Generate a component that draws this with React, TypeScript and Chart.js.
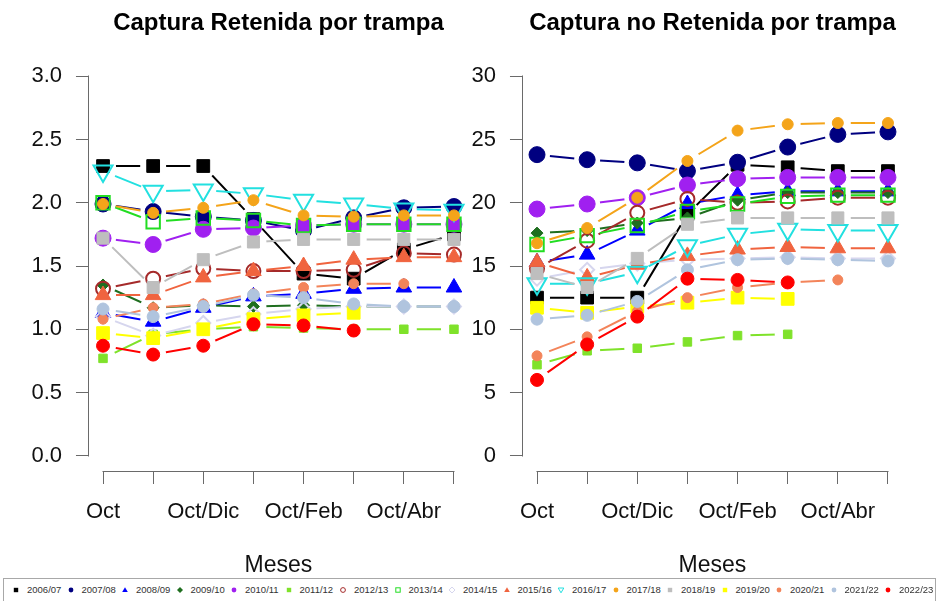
import React, { useEffect, useRef } from 'react';
import { Chart, registerables } from 'chart.js';

Chart.register(...registerables);

// ---------- data ----------
const MONTHS = ['Oct', 'Oct/Nov', 'Oct/Dic', 'Oct/Ene', 'Oct/Feb', 'Oct/Mar', 'Oct/Abr', 'Oct/May'];
const SEASONS = ['2006/07', '2007/08', '2008/09', '2009/10', '2010/11', '2011/12', '2012/13', '2013/14', '2014/15',
  '2015/16', '2016/17', '2017/18', '2018/19', '2019/20', '2020/21', '2021/22', '2022/23'];

const LEFT_TITLE = 'Captura Retenida por trampa';
const RIGHT_TITLE = 'Captura no Retenida por trampa';
const X_TITLE = 'Meses';
const LEFT_Y_TICKS = [0, 0.5, 1.0, 1.5, 2.0, 2.5, 3.0];
const RIGHT_Y_TICKS = [0, 5, 10, 15, 20, 25, 30];

// Captura Retenida por trampa
const RET_2006_07 = [2.29, 2.29, 2.29, 1.87, 1.44, 1.40, 1.63, 1.75];
const RET_2007_08 = [1.99, 1.93, 1.89, 1.86, 1.78, 1.88, 1.96, 1.97];
const RET_2008_09 = [1.13, 1.06, 1.17, 1.26, 1.28, 1.32, 1.33, 1.33];
const RET_2009_10 = [1.35, 1.17, 1.19, 1.18, 1.19, 1.18, 1.18, 1.18];
const RET_2010_11 = [1.72, 1.67, 1.79, 1.80, 1.82, 1.83, 1.83, 1.83];
const RET_2011_12 = [0.77, 0.96, 1.00, 1.02, 1.01, 1.00, 1.00, 1.00];
const RET_2012_13 = [1.32, 1.40, 1.48, 1.46, 1.46, 1.47, 1.60, 1.59];
const RET_2013_14 = [2.00, 1.85, 1.88, 1.86, 1.82, 1.83, 1.83, 1.83];
const RET_2014_15 = [1.10, 0.95, 1.05, 1.12, 1.16, 1.18, 1.18, 1.18];
const RET_2015_16 = [1.27, 1.27, 1.41, 1.46, 1.50, 1.55, 1.57, 1.57];
const RET_2016_17 = [2.25, 2.09, 2.10, 2.07, 2.02, 1.99, 1.95, 1.94];
const RET_2017_18 = [1.99, 1.92, 1.96, 2.02, 1.90, 1.89, 1.90, 1.90];
const RET_2018_19 = [1.72, 1.33, 1.55, 1.69, 1.71, 1.71, 1.71, 1.71];
const RET_2019_20 = [0.97, 0.93, 1.00, 1.08, 1.11, 1.13, null, null];
const RET_2020_21 = [1.08, 1.17, 1.20, 1.28, 1.33, 1.36, 1.36, null];
const RET_2021_22 = [1.16, 1.10, 1.18, 1.27, 1.25, 1.20, 1.18, 1.18];
const RET_2022_23 = [0.87, 0.80, 0.87, 1.04, 1.03, 0.99, null, null];

// Captura no Retenida por trampa
const NORET_2006_07 = [12.5, 12.5, 12.5, 19.1, 23.0, 22.8, 22.5, 22.5];
const NORET_2007_08 = [23.8, 23.4, 23.15, 22.5, 23.2, 24.4, 25.4, 25.6];
const NORET_2008_09 = [15.3, 15.9, 17.8, 19.9, 20.6, 20.9, 20.9, 20.9];
const NORET_2009_10 = [17.6, 17.8, 18.4, 18.8, 20.2, 20.8, 20.8, 20.8];
const NORET_2010_11 = [19.5, 19.9, 20.4, 21.4, 21.9, 22.0, 22.0, 22.0];
const NORET_2011_12 = [7.2, 8.3, 8.5, 9.0, 9.5, 9.6, null, null];
const NORET_2012_13 = [14.8, 17.0, 19.2, 20.3, 20.0, 20.1, 20.4, 20.4];
const NORET_2013_14 = [16.7, 17.4, 18.2, 19.3, 19.9, 20.5, 20.6, 20.6];
const NORET_2014_15 = [14.0, 14.7, 15.2, 15.5, 15.6, 15.7, 15.6, 15.6];
const NORET_2015_16 = [15.3, 14.1, 15.1, 15.8, 16.3, 16.5, 16.4, 16.4];
const NORET_2016_17 = [13.6, 13.6, 14.5, 16.6, 17.5, 17.9, 17.8, 17.8];
const NORET_2017_18 = [16.8, 18.0, 20.4, 23.3, 25.7, 26.2, 26.3, 26.3];
const NORET_2018_19 = [14.4, 13.3, 15.6, 18.3, 18.8, 18.8, 18.8, 18.8];
const NORET_2019_20 = [11.7, 11.3, 11.8, 12.1, 12.5, 12.4, null, null];
const NORET_2020_21 = [7.9, 9.4, 11.4, 12.5, 13.3, 13.7, 13.9, null];
const NORET_2021_22 = [10.8, 11.1, 12.2, 14.7, 15.5, 15.6, 15.5, 15.4];
const NORET_2022_23 = [6.0, 8.8, 11.0, 14.0, 13.9, 13.7, null, null];

const RETENIDA = [RET_2006_07, RET_2007_08, RET_2008_09, RET_2009_10, RET_2010_11, RET_2011_12, RET_2012_13,
  RET_2013_14, RET_2014_15, RET_2015_16, RET_2016_17, RET_2017_18, RET_2018_19, RET_2019_20, RET_2020_21,
  RET_2021_22, RET_2022_23];
const NO_RETENIDA = [NORET_2006_07, NORET_2007_08, NORET_2008_09, NORET_2009_10, NORET_2010_11, NORET_2011_12,
  NORET_2012_13, NORET_2013_14, NORET_2014_15, NORET_2015_16, NORET_2016_17, NORET_2017_18, NORET_2018_19,
  NORET_2019_20, NORET_2020_21, NORET_2021_22, NORET_2022_23];

// ---------- styles ----------
type Sty = { color: string; shape: string; r: number; fill: boolean; rot?: number };
const SERIES_STYLE: Sty[] = [
  { color: '#000000', shape: 'rect', r: 9, fill: true },
  { color: '#000080', shape: 'circle', r: 8, fill: true },
  { color: '#0000ff', shape: 'triangle', r: 9, fill: true },
  { color: '#1f6e1f', shape: 'rectRot', r: 6, fill: true },
  { color: '#a020f0', shape: 'circle', r: 8, fill: true },
  { color: '#7fe22a', shape: 'rect', r: 6, fill: true },
  { color: '#a52a2a', shape: 'circle', r: 7, fill: false },
  { color: '#22dd22', shape: 'rect', r: 9.5, fill: false },
  { color: '#d6d6ee', shape: 'rectRot', r: 7, fill: false },
  { color: '#f0643f', shape: 'triangle', r: 9, fill: true },
  { color: '#22e0e0', shape: 'triangle', r: 11, fill: false, rot: 180 },
  { color: '#f4a41a', shape: 'circle', r: 5.5, fill: true },
  { color: '#bebebe', shape: 'rect', r: 8.5, fill: true },
  { color: '#ffff00', shape: 'rect', r: 9, fill: true },
  { color: '#f3845a', shape: 'circle', r: 5, fill: true },
  { color: '#b0c4de', shape: 'circle', r: 6, fill: true },
  { color: '#ff0000', shape: 'circle', r: 6.5, fill: true },
];

const FONT = '"Liberation Sans", Arial, Helvetica, sans-serif';
const AXIS_COLOR = '#6a6a6a';
const GAP = 13;

// line segments leave a gap around their own points (R type = "b")
const gapClip = {
  id: 'gapClip',
  beforeDatasetDraw(chart: any, args: any) {
    const ds = chart.data.datasets[args.index];
    if (!ds.isLine) return;
    const ctx = chart.ctx;
    ctx.save();
    ctx.beginPath();
    ctx.rect(0, 0, chart.width, chart.height);
    args.meta.data.forEach((pt: any) => {
      if (pt.skip || !isFinite(pt.x) || !isFinite(pt.y)) return;
      ctx.moveTo(pt.x + GAP, pt.y);
      ctx.arc(pt.x, pt.y, GAP, 0, Math.PI * 2);
    });
    ctx.clip('evenodd');
  },
  afterDatasetDraw(chart: any, args: any) {
    const ds = chart.data.datasets[args.index];
    if (!ds.isLine) return;
    chart.ctx.restore();
  },
};

// R-style axis lines spanning from first to last tick
const rAxes = {
  id: 'rAxes',
  beforeDatasetsDraw(chart: any, _args: any, opts: any) {
    const { ctx, chartArea, scales } = chart;
    const x = scales.x;
    const y = scales.y;
    ctx.save();
    ctx.strokeStyle = AXIS_COLOR;
    ctx.lineWidth = 1;
    ctx.beginPath();
    const ax = Math.round(chartArea.left) - 0.5;
    ctx.moveTo(ax, Math.round(y.getPixelForValue(opts.yFrom)) + 0.5);
    ctx.lineTo(ax, Math.round(y.getPixelForValue(opts.yTo)) - 0.5);
    const ay = Math.round(chartArea.bottom) + 0.5;
    ctx.moveTo(Math.round(x.getPixelForValue(1)) - 0.5, ay);
    ctx.lineTo(Math.round(x.getPixelForValue(MONTHS.length)) + 0.5, ay);
    ctx.stroke();
    ctx.restore();
  },
};

function buildDatasets(series: (number | null)[][]) {
  const out: any[] = [];
  series.forEach((vals, i) => {
    const st = SERIES_STYLE[i];
    const pts = vals.map((v, k) => ({ x: k + 1, y: v }));
    out.push({
      label: SEASONS[i],
      data: pts,
      borderColor: st.color,
      borderWidth: 2,
      pointRadius: 0,
      pointHoverRadius: 0,
      tension: 0,
      fill: false,
      spanGaps: false,
      order: 1000 - 2 * i,
      isLine: true,
    });
    out.push({
      label: SEASONS[i] + ' puntos',
      data: pts,
      showLine: false,
      pointStyle: st.shape,
      pointRadius: st.r,
      pointHoverRadius: st.r,
      pointRotation: st.rot || 0,
      pointBackgroundColor: st.fill ? st.color : 'rgba(0,0,0,0)',
      pointBorderColor: st.color,
      pointBorderWidth: st.fill ? 1 : 2,
      order: 999 - 2 * i,
      clip: false,
    });
  });
  return out;
}

function makeConfig(series: (number | null)[][], title: string, yTicks: number[],
  padding: { left: number; right: number }, fmt: (v: number) => string): any {
  const yMin = yTicks[0];
  const yMax = yTicks[yTicks.length - 1];
  const ext = (yMax - yMin) * 0.04;
  const xExt = (MONTHS.length - 1) * 0.04;
  const grid = { drawOnChartArea: false, drawTicks: true, tickLength: 13, tickColor: AXIS_COLOR, tickWidth: 1 };
  return {
    type: 'line',
    data: { datasets: buildDatasets(series) },
    options: {
      animation: false,
      responsive: false,
      events: [],
      layout: { padding: { left: padding.left, right: padding.right, top: 0, bottom: 0 } },
      plugins: {
        legend: { display: false },
        tooltip: { enabled: false },
        title: {
          display: true,
          text: title,
          fullSize: false,
          color: '#000',
          font: { family: FONT, size: 24, weight: 'bold' },
          padding: { top: 9, bottom: 23.2 },
        },
        rAxes: { yFrom: yMin, yTo: yMax },
      },
      scales: {
        x: {
          type: 'linear',
          min: 1 - xExt,
          max: MONTHS.length + xExt,
          afterBuildTicks: (s: any) => { s.ticks = MONTHS.map((_, i) => ({ value: i + 1 })); },
          ticks: {
            autoSkip: false,
            maxRotation: 0,
            minRotation: 0,
            padding: 15,
            color: '#111',
            font: { family: FONT, size: 22 },
            callback: (v: number) => {
              const i = Math.round(v) - 1;
              return i % 2 === 0 ? MONTHS[i] : '';
            },
          },
          grid,
          border: { display: false },
          title: {
            display: true,
            text: X_TITLE,
            color: '#111',
            font: { family: FONT, size: 23 },
            padding: { top: 11, bottom: 2 },
          },
        },
        y: {
          type: 'linear',
          min: yMin - ext,
          max: yMax + ext,
          afterBuildTicks: (s: any) => { s.ticks = yTicks.map((v) => ({ value: v })); },
          ticks: {
            padding: 14,
            color: '#111',
            font: { family: FONT, size: 22 },
            callback: (v: number) => fmt(v),
          },
          grid,
          border: { display: false },
        },
      },
    },
    plugins: [gapClip, rAxes],
  };
}

function LegendMark({ st }: { st: Sty }) {
  const fill = st.fill ? st.color : 'none';
  const sw = st.fill ? 0 : 1;
  let shape: any;
  if (st.shape === 'circle') shape = <circle cx="4" cy="4" r="2.4" fill={fill} stroke={st.color} strokeWidth={sw} />;
  else if (st.shape === 'rect') shape = <rect x="1.8" y="1.8" width="4.4" height="4.4" fill={fill} stroke={st.color} strokeWidth={sw} />;
  else if (st.shape === 'rectRot') shape = <polygon points="4,1 7,4 4,7 1,4" fill={fill} stroke={st.color} strokeWidth={sw} />;
  else if (st.rot) shape = <polygon points="1.2,2 6.8,2 4,6.8" fill={fill} stroke={st.color} strokeWidth={sw} />;
  else shape = <polygon points="4,1.2 6.8,6 1.2,6" fill={fill} stroke={st.color} strokeWidth={sw} />;
  return <svg width="8" height="8" style={{ display: 'block', marginRight: 7, flexShrink: 0 }}>{shape}</svg>;
}

export default function App() {
  const leftRef = useRef<HTMLCanvasElement>(null);
  const rightRef = useRef<HTMLCanvasElement>(null);

  useEffect(() => {
    const left = new Chart(leftRef.current as HTMLCanvasElement,
      makeConfig(RETENIDA, LEFT_TITLE, LEFT_Y_TICKS, { left: 17.4, right: 2 }, (v) => v.toFixed(1)));
    const right = new Chart(rightRef.current as HTMLCanvasElement,
      makeConfig(NO_RETENIDA, RIGHT_TITLE, RIGHT_Y_TICKS, { left: 1.5, right: 37 }, (v) => String(v)));
    return () => { left.destroy(); right.destroy(); };
  }, []);

  return (
    <div style={{ position: 'absolute', left: 0, top: 0, width: 939, height: 601, background: '#fff', fontFamily: FONT, overflow: 'hidden' }}>
      <canvas ref={leftRef} width={481} height={581} style={{ position: 'absolute', left: 0, top: 0, display: 'block' }} />
      <canvas ref={rightRef} width={483} height={581} style={{ position: 'absolute', left: 456, top: 0, display: 'block' }} />
      <div style={{
        position: 'absolute', left: 3, top: 578, width: 933, height: 24, boxSizing: 'border-box',
        border: '1px solid #a8a8a8', display: 'flex', alignItems: 'center', paddingLeft: 8, background: '#fff',
      }}>
        {SEASONS.map((s, i) => (
          <div key={s} style={{ width: 54.5, flexShrink: 0, display: 'flex', alignItems: 'center' }}>
            <LegendMark st={SERIES_STYLE[i]} />
            <span style={{ fontSize: 9.5, color: '#333', whiteSpace: 'nowrap', lineHeight: 1 }}>{s}</span>
          </div>
        ))}
      </div>
    </div>
  );
}
